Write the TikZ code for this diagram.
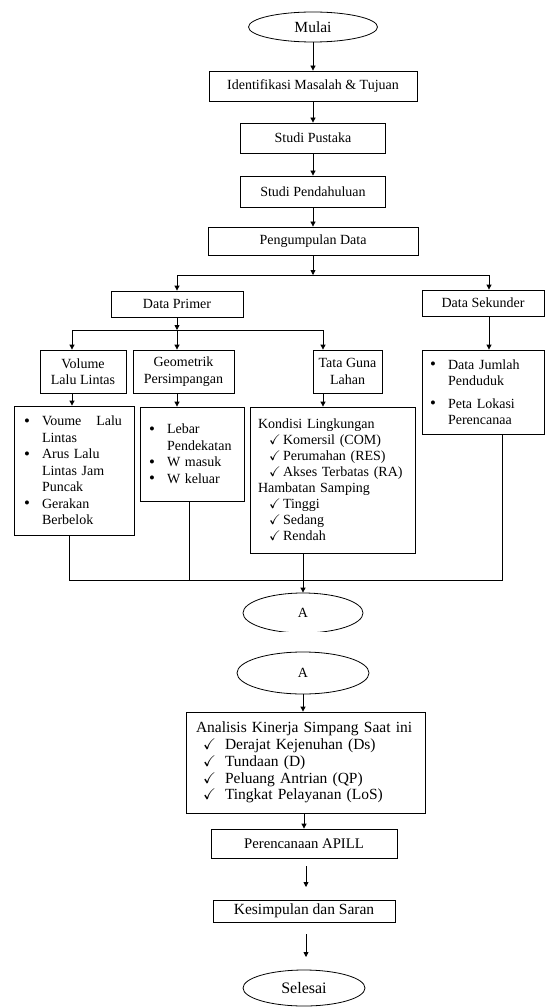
\documentclass[tikz,border=0pt]{standalone}
\usepackage{amssymb}
\usepackage{fontspec}
\setmainfont{Liberation Serif}
\usetikzlibrary{shapes.geometric,arrows.meta}
\newcommand\mybul{\makebox[18pt][l]{\raisebox{-0.3pt}{\scalebox{1.2}{\textbullet}}}}
\newcommand\mychk[2]{\hspace*{#1}\makebox[#2][l]{$\checkmark$}}
\begin{document}
\begin{tikzpicture}[x=1pt,y=-1pt,
  box/.style={draw, line width=0.8pt, inner sep=0pt, font=\fontsize{14}{16.5}\selectfont, align=center},
  listbox/.style={box, align=left},
  term/.style={draw, ellipse, line width=0.8pt, inner sep=0pt},
  ln/.style={line width=0.8pt},
  arr/.style={line width=0.8pt, -{Triangle[length=5pt,width=5pt]}},
]
\useasboundingbox (0,0) rectangle (545,1008);

% top chain
\node[term, minimum width=129pt, minimum height=30pt, font=\fontsize{15.5}{18}\selectfont] (mulai) at (313,27) {Mulai};
\node[box, minimum width=208pt, minimum height=30pt] (ident) at (313,86) {Identifikasi Masalah \& Tujuan};
\node[box, minimum width=145pt, minimum height=30pt] (pustaka) at (313,138) {Studi Pustaka};
\node[box, minimum width=145pt, minimum height=31pt] (pendah) at (313,191.5) {Studi Pendahuluan};
\node[box, minimum width=210pt, minimum height=28pt] (pengum) at (313,241) {Pengumpulan Data};

\draw[arr] (mulai.south) -- (ident.north);
\draw[arr] (ident.south) -- (pustaka.north);
\draw[arr] (pustaka.south) -- (pendah.north);
\draw[arr] (pendah.south) -- (pengum.north);

% split into primer / sekunder
\coordinate (j1) at (313,275);
\coordinate (jl) at (177,275);
\coordinate (jr) at (489,275);
\node[box, minimum width=132pt, minimum height=26pt] (primer) at (177,304) {Data Primer};
\node[box, minimum width=122pt, minimum height=26pt] (sekunder) at (483,303) {Data Sekunder};
\draw[arr] (pengum.south) -- (j1);
\draw[ln] (jl) -- (jr);
\draw[arr] (jl) -- (primer.north -| jl);
\draw[arr] (jr) -- (sekunder.north -| jr);

% primer branches
\coordinate (k2) at (177,330);
\coordinate (k1) at (72,330);
\coordinate (k3) at (323,330);
\node[box, minimum width=86pt, minimum height=43pt] (vol) at (83,371.5) {Volume\\Lalu Lintas};
\node[box, minimum width=101pt, minimum height=43pt] (geo) at (183.5,371.5) {Geometrik\\Persimpangan};
\node[box, minimum width=69pt, minimum height=43pt] (tata) at (347.5,371.5) {Tata Guna\\Lahan};
\draw[arr] (primer.south -| k2) -- (k2);
\draw[ln] (k1) -- (k3);
\draw[arr] (k1) -- (vol.north -| k1);
\draw[arr] (k2) -- (geo.north -| k2);
\draw[arr] (k3) -- (tata.north -| k3);

% detail boxes
\node[listbox, inner xsep=10pt, text width=100pt, minimum height=129pt] (voume) at (74,470.5)
  {\mybul\makebox[80pt][l]{Voume\hfill Lalu}\\
   \hspace*{18pt}Lintas\\
   \mybul Arus Lalu\\
   \hspace*{18pt}Lintas Jam\\
   \hspace*{18pt}Puncak\\
   \mybul Gerakan\\
   \hspace*{18pt}Berbelok};
\node[listbox, inner xsep=9pt, text width=86pt, minimum height=94pt] (lebar) at (192,454)
  {\mybul Lebar\\
   \hspace*{18pt}Pendekatan\\
   \mybul W masuk\\
   \mybul W keluar};
\node[listbox, inner xsep=8pt, text width=149pt, minimum height=146pt, font=\fontsize{14}{16}\selectfont] (kondisi) at (332.5,480)
  {Kondisi Lingkungan\\
   \mychk{11pt}{14pt}Komersil (COM)\\
   \mychk{11pt}{14pt}Perumahan (RES)\\
   \mychk{11pt}{14pt}Akses Terbatas (RA)\\
   Hambatan Samping\\
   \mychk{11pt}{14pt}Tinggi\\
   \mychk{11pt}{14pt}Sedang\\
   \mychk{11pt}{14pt}Rendah};
\node[listbox, inner xsep=8pt, text width=106pt, minimum height=84pt] (jumlah) at (483,392)
  {\mybul Data Jumlah\\
   \hspace*{18pt}Penduduk\\[6pt]
   \mybul Peta Lokasi\\
   \hspace*{18pt}Perencanaa};

\draw[arr] (vol.south -| k1) -- (voume.north -| k1);
\draw[arr] (geo.south -| k2) -- (lebar.north -| k2);
\draw[arr] (tata.south -| k3) -- (kondisi.north -| k3);
\draw[arr] (sekunder.south -| jr) -- (jumlah.north -| jr);

% gather
\coordinate (b1) at (69,580);
\coordinate (b2) at (189,580);
\coordinate (b3) at (502,580);
\draw[ln] (voume.south -| b1) -- (b1) -- (b3) -- (jumlah.south -| b3);
\draw[ln] (lebar.south -| b2) -- (b2);

\begin{scope}
  \clip (0,560) rectangle (545,631.5);
  \node[term, minimum width=120pt, minimum height=40pt, font=\fontsize{14}{16}\selectfont] (A1) at (303,613) {A};
\end{scope}
\draw[arr] (kondisi.south -| A1) -- (A1.north);

% second part
\node[term, minimum width=132pt, minimum height=42pt, font=\fontsize{14}{16}\selectfont] (A2) at (303,673) {A};
\node[listbox, inner xsep=10pt, text width=219pt, minimum height=101pt, font=\fontsize{15.5}{16.8}\selectfont] (analisis) at (305.5,762.5)
  {Analisis Kinerja Simpang Saat ini\\
   \mychk{7pt}{22pt}Derajat Kejenuhan (Ds)\\
   \mychk{7pt}{22pt}Tundaan (D)\\
   \mychk{7pt}{22pt}Peluang Antrian (QP)\\
   \mychk{7pt}{22pt}Tingkat Pelayanan (LoS)};
\node[box, minimum width=186pt, minimum height=29pt, font=\fontsize{14.7}{17}\selectfont] (perenc) at (304,843.5) {Perencanaan APILL};
\node[box, minimum width=182pt, minimum height=22pt, font=\fontsize{15.5}{17}\selectfont] (kesimp) at (304,911) {Kesimpulan dan Saran};
\node[term, minimum width=122pt, minimum height=36pt, font=\fontsize{16}{18}\selectfont] (selesai) at (304,988) {Selesai};

\draw[arr] (A2.south) -- (analisis.north -| A2);
\draw[arr] (analisis.south -| perenc) -- (perenc.north);
\coordinate (f1) at (306,866);
\coordinate (f2) at (306,887);
\coordinate (f3) at (306,934);
\coordinate (f4) at (306,957);
\draw[arr] (f1) -- (f2);
\draw[arr] (f3) -- (f4);
\end{tikzpicture}
\end{document}
